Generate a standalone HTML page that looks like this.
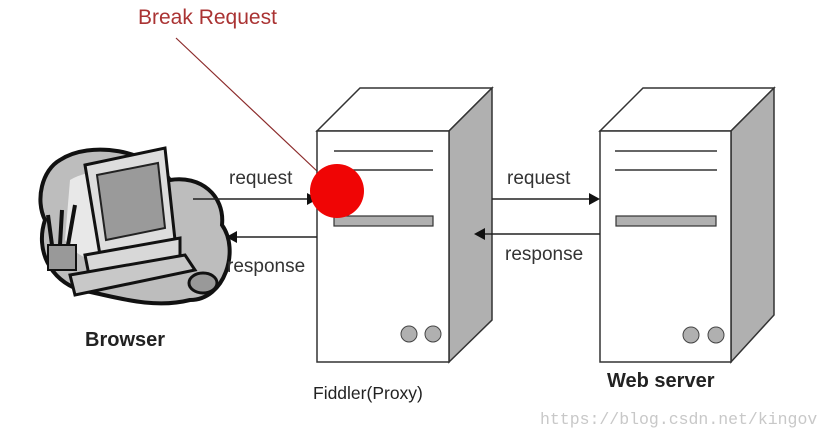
<!DOCTYPE html>
<html><head><style>body{margin:0;background:#fff}svg{display:block}</style></head>
<body>
<svg width="832" height="436" viewBox="0 0 832 436" xmlns="http://www.w3.org/2000/svg" font-family="Liberation Sans, Arial, sans-serif">
<rect width="832" height="436" fill="#fff"/>
<!-- Browser clipart -->
<path d="M60,160 C90,140 150,150 170,180 C200,175 225,195 222,225 C240,250 225,300 190,300 C150,310 110,295 80,290 C50,280 35,250 45,220 C35,200 42,170 60,160 Z" fill="#bdbdbd" stroke="#111" stroke-width="4"/>
<path d="M70,180 C95,165 140,170 155,190 L150,260 C120,270 80,265 65,240 Z" fill="#e8e8e8"/>
<path d="M85,165 L165,148 L175,240 L100,255 Z" fill="#ddd" stroke="#111" stroke-width="3"/>
<path d="M97,175 L158,163 L165,228 L106,240 Z" fill="#9a9a9a" stroke="#222" stroke-width="2"/>
<path d="M85,255 L180,238 L180,262 L90,280 Z" fill="#d8d8d8" stroke="#111" stroke-width="3"/>
<path d="M70,275 L185,255 L195,270 L75,295 Z" fill="#c8c8c8" stroke="#111" stroke-width="3"/>
<rect x="48" y="245" width="28" height="25" fill="#999" stroke="#111" stroke-width="2"/>
<path d="M52,245 L48,215 M60,245 L62,210 M68,245 L75,205" stroke="#111" stroke-width="4"/>
<ellipse cx="203" cy="283" rx="14" ry="10" fill="#999" stroke="#111" stroke-width="3"/>
<text x="85" y="346" font-size="20" font-weight="bold" fill="#222">Browser</text>
<!-- Break Request -->
<text x="138" y="24" font-size="21" fill="#a33">Break Request</text>
<line x1="176" y1="38" x2="318" y2="172" stroke="#8b2a2a" stroke-width="1.2"/>
<!-- Fiddler server -->
<polygon points="317,131 360,88 492,88 449,131" fill="#fff" stroke="#333" stroke-width="1.5"/>
<polygon points="449,131 492,88 492,320 449,362" fill="#b0b0b0" stroke="#333" stroke-width="1.5"/>
<rect x="317" y="131" width="132" height="231" fill="#fff" stroke="#333" stroke-width="1.5"/>
<line x1="334" y1="151" x2="433" y2="151" stroke="#333" stroke-width="1.5"/>
<line x1="334" y1="170" x2="433" y2="170" stroke="#333" stroke-width="1.5"/>
<rect x="334" y="216" width="99" height="10" fill="#b0b0b0" stroke="#333" stroke-width="1.2"/>
<circle cx="409" cy="334" r="8" fill="#b0b0b0" stroke="#444"/>
<circle cx="433" cy="334" r="8" fill="#b0b0b0" stroke="#444"/>
<text x="313" y="399" font-size="17.5" fill="#222">Fiddler(Proxy)</text>
<!-- Web server -->
<polygon points="600,131 643,88 774,88 731,131" fill="#fff" stroke="#333" stroke-width="1.5"/>
<polygon points="731,131 774,88 774,315 731,362" fill="#b0b0b0" stroke="#333" stroke-width="1.5"/>
<rect x="600" y="131" width="131" height="231" fill="#fff" stroke="#333" stroke-width="1.5"/>
<line x1="615" y1="151" x2="717" y2="151" stroke="#333" stroke-width="1.5"/>
<line x1="615" y1="170" x2="717" y2="170" stroke="#333" stroke-width="1.5"/>
<rect x="616" y="216" width="100" height="10" fill="#b0b0b0" stroke="#333" stroke-width="1.2"/>
<circle cx="691" cy="335" r="8" fill="#b0b0b0" stroke="#444"/>
<circle cx="716" cy="335" r="8" fill="#b0b0b0" stroke="#444"/>
<text x="607" y="387" font-size="20" font-weight="bold" fill="#222">Web server</text>
<!-- arrows -->
<g stroke="#222" stroke-width="1.5" fill="#111">
<line x1="193" y1="199" x2="310" y2="199"/><polygon points="318,199 307,193 307,205" stroke="none"/>
<line x1="317" y1="237" x2="234" y2="237"/><polygon points="226,237 237,231 237,243" stroke="none"/>
<line x1="492" y1="199" x2="592" y2="199"/><polygon points="600,199 589,193 589,205" stroke="none"/>
<line x1="600" y1="234" x2="482" y2="234"/><polygon points="474,234 485,228 485,240" stroke="none"/>
</g>
<g font-size="19" fill="#333">
<text x="229" y="184">request</text>
<text x="227" y="272">response</text>
<text x="507" y="184">request</text>
<text x="505" y="260">response</text>
</g>
<circle cx="337" cy="191" r="27" fill="#f00505"/>
<text x="540" y="424" font-size="16.5" fill="#c8c8c8" font-family="Liberation Mono, monospace">https://blog.csdn.net/kingov</text>
</svg>
</body></html>
